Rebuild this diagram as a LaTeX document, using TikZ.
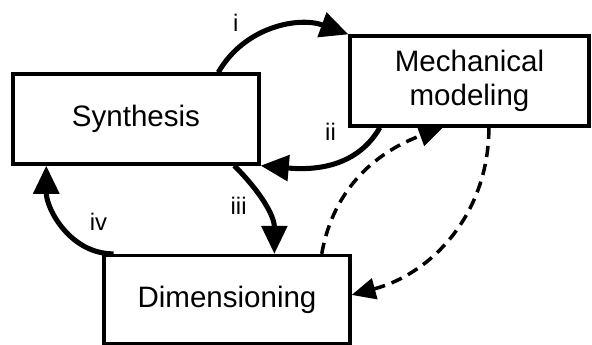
\documentclass[tikz,border=0pt]{standalone}
\usepackage{fontspec}
\setmainfont{Liberation Sans}
\usetikzlibrary{arrows.meta,calc}

\begin{document}
\begin{tikzpicture}[x=0.025cm,y=-0.025cm,
  blocco/.style={draw,line width=2.3pt,minimum height=2.25cm,align=center,font=\fontsize{21}{24}\selectfont},
  freccia/.style={line width=3.6pt,-{Triangle[length=20pt,width=18pt]}},
  tratto/.style={line width=2.5pt,dash pattern=on 8pt off 5pt,-{Triangle[length=17pt,width=15pt]}},
  etich/.style={font=\fontsize{17}{20}\selectfont}]
\useasboundingbox (0,0) rectangle (592,344);
\node[blocco,minimum width=6.15cm] (sint) at (136,119) {Synthesis};
\node[blocco,minimum width=5.975cm] (mecc) at (469.5,81) {Mechanical\\modeling};
\node[blocco,minimum width=6.15cm,minimum height=2.2cm] (dim) at (227,299.5) {Dimensioning};
\draw[freccia] ($(sint.north west)!0.83!(sint.north east)$) to[out=60,in=160]
  node[etich,pos=0.2,above left,xshift=6pt,yshift=7pt]{i} (mecc.north west);
\draw[freccia] ($(mecc.south west)!0.13!(mecc.south east)$) to[out=-120,in=-5]
  node[etich,pos=0.2,left,xshift=-14pt,yshift=12pt]{ii} (sint.south east);
\draw[freccia] ($(sint.south west)!0.894!(sint.south east)$) to[out=-45,in=90]
  node[etich,pos=0.45,left,xshift=-6pt,yshift=-3pt]{iii} ($(dim.north west)!0.69!(dim.north east)$);
\draw[freccia] ($(dim.north west)!0.045!(dim.north east)$) to[out=180,in=-90]
  node[etich,pos=0.45,above right,xshift=11pt,yshift=-5pt]{iv} ($(sint.south west)!0.14!(sint.south east)$);
\draw[tratto] ($(dim.north west)!0.88!(dim.north east)$) to[out=80,in=-160]
  ($(mecc.south west)!0.39!(mecc.south east)$);
\draw[tratto] ($(mecc.south west)!0.58!(mecc.south east)$) to[out=-90,in=15]
  ($(dim.north east)!0.45!(dim.south east)$);
\end{tikzpicture}
\end{document}
